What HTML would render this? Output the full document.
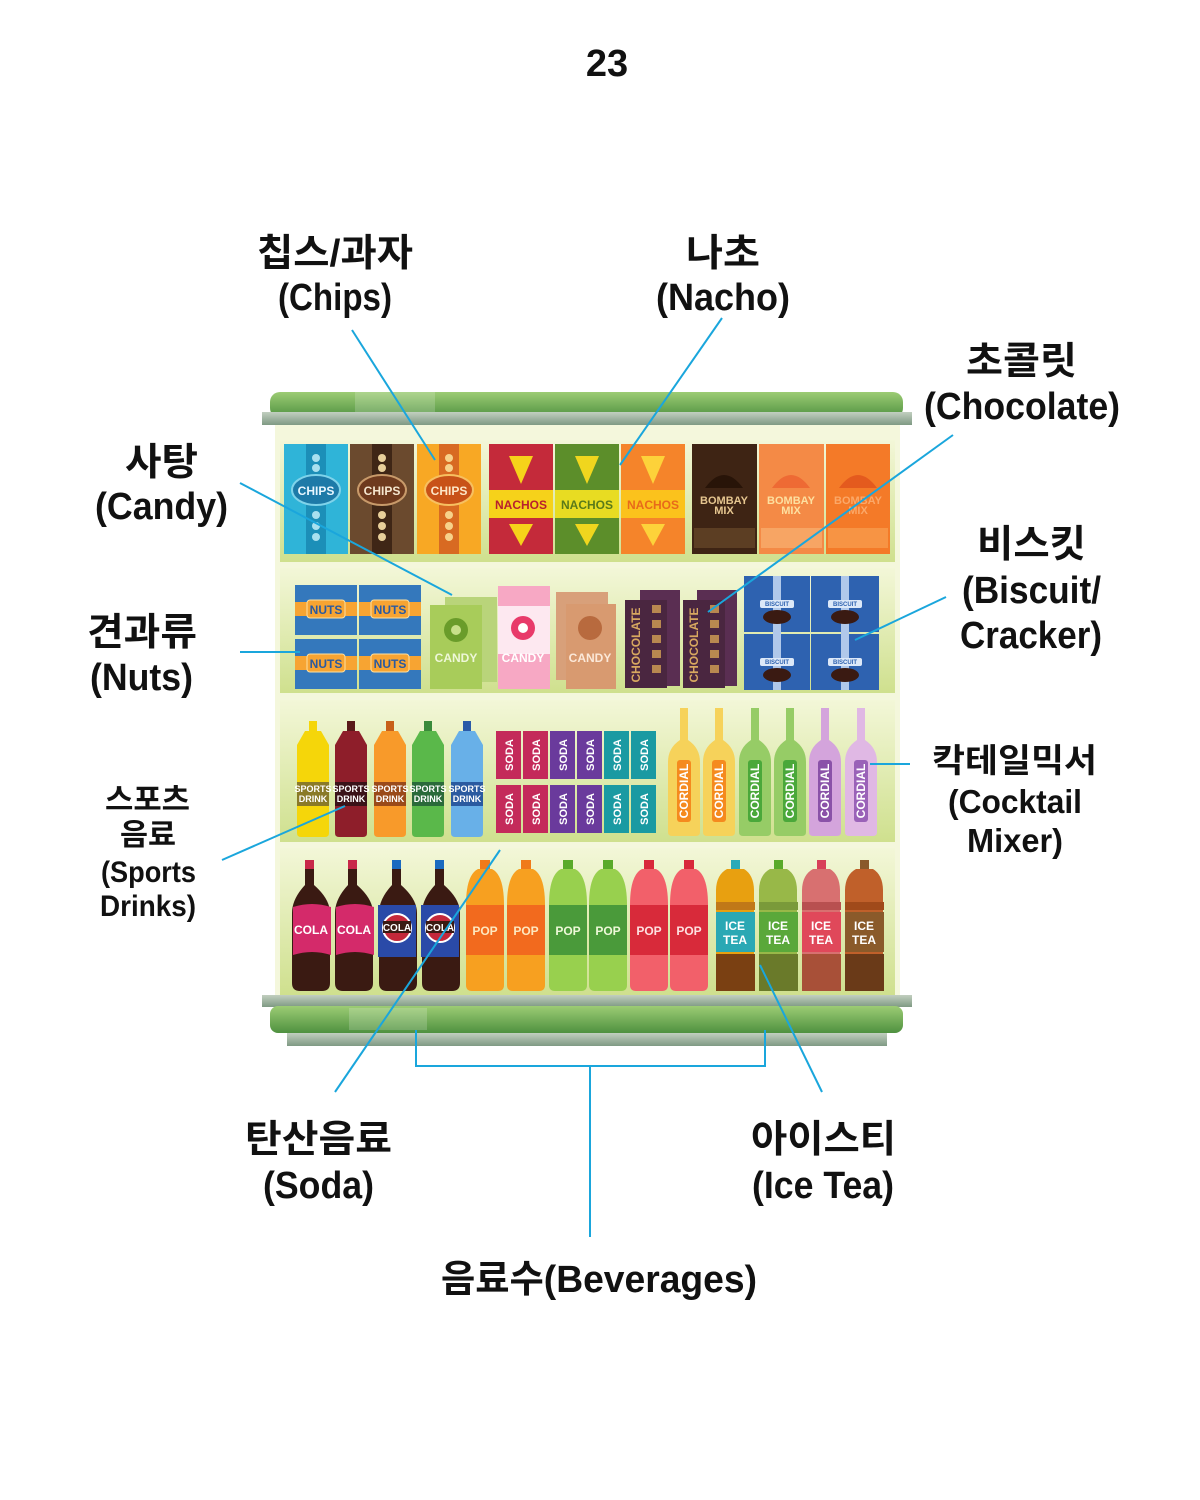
<!DOCTYPE html>
<html><head><meta charset="utf-8"><style>
html,body{margin:0;padding:0;background:#fff}
svg{display:block}
.L{font-family:"Liberation Sans Narrow","Liberation Sans","Noto Sans CJK KR",sans-serif;font-weight:bold;fill:#111}
.K{font-family:"Liberation Sans","Noto Sans CJK KR",sans-serif;font-weight:bold;fill:#111}
.p{font-family:"Liberation Sans Narrow","Liberation Sans",sans-serif;font-weight:bold;text-anchor:middle}
.ln{stroke:#1aa6dc;stroke-width:2;fill:none}
</style></head><body>
<svg width="1200" height="1500" viewBox="0 0 1200 1500" xmlns="http://www.w3.org/2000/svg">
<defs>
<linearGradient id="grn" x1="0" y1="0" x2="0" y2="1"><stop offset="0" stop-color="#9ccc74"/><stop offset="1" stop-color="#4f9140"/></linearGradient>
<linearGradient id="gry" x1="0" y1="0" x2="0" y2="1"><stop offset="0" stop-color="#c2cfc0"/><stop offset="1" stop-color="#7f9a84"/></linearGradient>
<linearGradient id="shelf" x1="0" y1="0" x2="0" y2="1"><stop offset="0" stop-color="#f3f7d8"/><stop offset="1" stop-color="#cfe08e"/></linearGradient>
<linearGradient id="sh" x1="0" y1="0" x2="1" y2="0"><stop offset="0" stop-color="#fff" stop-opacity=".25"/><stop offset=".5" stop-color="#fff" stop-opacity="0"/><stop offset="1" stop-color="#000" stop-opacity=".15"/></linearGradient>
</defs>

<!-- page number -->
<text class="L" x="607" y="76" font-size="38" text-anchor="middle">23</text>

<!-- cabinet -->
<rect x="275" y="420" width="625" height="580" fill="#f4f7dc"/>
<rect x="270" y="392" width="633" height="26" rx="10" fill="url(#grn)"/>
<rect x="355" y="392" width="80" height="22" fill="#fff" opacity=".18"/>
<rect x="262" y="412" width="650" height="13" fill="url(#gry)"/>

<!-- shelf backgrounds -->
<rect x="280" y="440" width="615" height="122" fill="url(#shelf)"/>
<rect x="280" y="568" width="615" height="125" fill="url(#shelf)"/>
<rect x="280" y="700" width="615" height="142" fill="url(#shelf)"/>
<rect x="280" y="848" width="615" height="147" fill="url(#shelf)"/>

<!-- SHELF 1: chips -->
<g>
<rect x="284" y="444" width="64" height="110" fill="#2fb4d8"/><rect x="306" y="444" width="20" height="110" fill="#1c8fb8"/>
<ellipse cx="316" cy="490" rx="24" ry="15" fill="#1d7aa8" stroke="#7fd3ea" stroke-width="2"/><text class="p" x="316" y="495" font-size="12" fill="#e8f7ff">CHIPS</text>
<circle cx="316" cy="458" r="4" fill="#a8e0ef"/><circle cx="316" cy="468" r="4" fill="#a8e0ef"/><circle cx="316" cy="515" r="4" fill="#a8e0ef"/><circle cx="316" cy="526" r="4" fill="#a8e0ef"/><circle cx="316" cy="537" r="4" fill="#a8e0ef"/>
<rect x="350" y="444" width="64" height="110" fill="#6b4a2e"/><rect x="372" y="444" width="20" height="110" fill="#3f2616"/>
<ellipse cx="382" cy="490" rx="24" ry="15" fill="#6e3a1e" stroke="#c89a6a" stroke-width="2"/><text class="p" x="382" y="495" font-size="12" fill="#f5e6cf">CHIPS</text>
<circle cx="382" cy="458" r="4" fill="#e8cf9a"/><circle cx="382" cy="468" r="4" fill="#e8cf9a"/><circle cx="382" cy="515" r="4" fill="#e8cf9a"/><circle cx="382" cy="526" r="4" fill="#e8cf9a"/><circle cx="382" cy="537" r="4" fill="#e8cf9a"/>
<rect x="417" y="444" width="64" height="110" fill="#f8a824"/><rect x="439" y="444" width="20" height="110" fill="#d86a22"/>
<ellipse cx="449" cy="490" rx="24" ry="15" fill="#c85218" stroke="#f7c060" stroke-width="2"/><text class="p" x="449" y="495" font-size="12" fill="#fde7c8">CHIPS</text>
<circle cx="449" cy="458" r="4" fill="#f7d28a"/><circle cx="449" cy="468" r="4" fill="#f7d28a"/><circle cx="449" cy="515" r="4" fill="#f7d28a"/><circle cx="449" cy="526" r="4" fill="#f7d28a"/><circle cx="449" cy="537" r="4" fill="#f7d28a"/>
</g>
<!-- nachos -->
<g>
<rect x="489" y="444" width="64" height="110" fill="#c42a3a"/><rect x="489" y="490" width="64" height="28" fill="#f6d21a"/>
<path d="M509 456 L533 456 L521 484 Z M509 524 L533 524 L521 546 Z" fill="#f6d21a"/><text class="p" x="521" y="509" font-size="12" fill="#b8202e">NACHOS</text>
<rect x="555" y="444" width="64" height="110" fill="#5c8e2a"/><rect x="555" y="490" width="64" height="28" fill="#e8dc22"/>
<path d="M575 456 L599 456 L587 484 Z M575 524 L599 524 L587 546 Z" fill="#f0d61e"/><text class="p" x="587" y="509" font-size="12" fill="#5a7a1a">NACHOS</text>
<rect x="621" y="444" width="64" height="110" fill="#f5842a"/><rect x="621" y="490" width="64" height="28" fill="#fbc21c"/>
<path d="M641 456 L665 456 L653 484 Z M641 524 L665 524 L653 546 Z" fill="#fdd23a"/><text class="p" x="653" y="509" font-size="12" fill="#e86a1a">NACHOS</text>
</g>
<!-- bombay -->
<g>
<rect x="692" y="444" width="65" height="110" fill="#3e2414"/><path d="M705 488 Q724 462 743 488 Z" fill="#281408"/>
<text class="p" x="724" y="504" font-size="11" fill="#e6c690">BOMBAY</text><text class="p" x="724" y="514" font-size="11" fill="#e6c690">MIX</text>
<rect x="694" y="528" width="61" height="20" fill="#6a4a2a" opacity=".7"/>
<rect x="759" y="444" width="65" height="110" fill="#f48a46"/><path d="M772 488 Q791 462 810 488 Z" fill="#ee6a34"/>
<text class="p" x="791" y="504" font-size="11" fill="#fde0a0">BOMBAY</text><text class="p" x="791" y="514" font-size="11" fill="#fde0a0">MIX</text>
<rect x="761" y="528" width="61" height="20" fill="#f8b070" opacity=".7"/>
<rect x="826" y="444" width="64" height="110" fill="#f47a28"/><path d="M839 488 Q858 462 877 488 Z" fill="#e45a1e"/>
<text class="p" x="858" y="504" font-size="11" fill="#fba868">BOMBAY</text><text class="p" x="858" y="514" font-size="11" fill="#fba868">MIX</text>
<rect x="828" y="528" width="60" height="20" fill="#f8a050" opacity=".7"/>
</g>

<!-- SHELF 2: nuts -->
<g>
<rect x="295" y="585" width="62" height="50" fill="#3478bc"/><rect x="295" y="602" width="62" height="14" fill="#f7a432"/><rect x="307" y="600" width="38" height="18" rx="3" fill="#f7a432" stroke="#fde0a0"/><text class="p" x="326" y="614" font-size="12" fill="#2a5aa0">NUTS</text>
<rect x="359" y="585" width="62" height="50" fill="#3478bc"/><rect x="359" y="602" width="62" height="14" fill="#f7a432"/><rect x="371" y="600" width="38" height="18" rx="3" fill="#f7a432" stroke="#fde0a0"/><text class="p" x="390" y="614" font-size="12" fill="#2a5aa0">NUTS</text>
<rect x="295" y="639" width="62" height="50" fill="#3478bc"/><rect x="295" y="656" width="62" height="14" fill="#f7a432"/><rect x="307" y="654" width="38" height="18" rx="3" fill="#f7a432" stroke="#fde0a0"/><text class="p" x="326" y="668" font-size="12" fill="#2a5aa0">NUTS</text>
<rect x="359" y="639" width="62" height="50" fill="#3478bc"/><rect x="359" y="656" width="62" height="14" fill="#f7a432"/><rect x="371" y="654" width="38" height="18" rx="3" fill="#f7a432" stroke="#fde0a0"/><text class="p" x="390" y="668" font-size="12" fill="#2a5aa0">NUTS</text>
</g>
<!-- candy -->
<g>
<rect x="445" y="597" width="52" height="85" fill="#b9d47a"/>
<rect x="430" y="605" width="52" height="84" fill="#a8cc5a"/><circle cx="456" cy="630" r="12" fill="#6a9c2a"/><circle cx="456" cy="630" r="5" fill="#c8e08a"/><text class="p" x="456" y="662" font-size="12" fill="#eef7d8">CANDY</text>
<rect x="498" y="586" width="52" height="103" fill="#f7a8c4"/><rect x="498" y="606" width="52" height="48" fill="#fde8f0"/><circle cx="523" cy="628" r="12" fill="#e83a6a"/><circle cx="523" cy="628" r="5" fill="#fff"/><text class="p" x="523" y="662" font-size="12" fill="#fff">CANDY</text>
<rect x="556" y="592" width="52" height="88" fill="#d8a07a"/>
<rect x="566" y="604" width="50" height="85" fill="#d89a70"/><circle cx="590" cy="628" r="12" fill="#b86a3e"/><text class="p" x="590" y="662" font-size="12" fill="#fbe8d8">CANDY</text>
</g>
<!-- chocolate -->
<g>
<rect x="640" y="590" width="40" height="96" fill="#5a2e52"/>
<rect x="625" y="600" width="42" height="88" fill="#4a2640"/><text class="p" font-size="12" fill="#d8a860" transform="translate(640 645) rotate(-90)">CHOCOLATE</text>
<rect x="652" y="605" width="9" height="8" fill="#b88850"/><rect x="652" y="620" width="9" height="8" fill="#b88850"/><rect x="652" y="635" width="9" height="8" fill="#b88850"/><rect x="652" y="650" width="9" height="8" fill="#b88850"/><rect x="652" y="665" width="9" height="8" fill="#b88850"/>
<rect x="697" y="590" width="40" height="96" fill="#5a2e52"/>
<rect x="683" y="600" width="42" height="88" fill="#4a2640"/><text class="p" font-size="12" fill="#d8a860" transform="translate(698 645) rotate(-90)">CHOCOLATE</text>
<rect x="710" y="605" width="9" height="8" fill="#b88850"/><rect x="710" y="620" width="9" height="8" fill="#b88850"/><rect x="710" y="635" width="9" height="8" fill="#b88850"/><rect x="710" y="650" width="9" height="8" fill="#b88850"/><rect x="710" y="665" width="9" height="8" fill="#b88850"/>
</g>
<!-- biscuit -->
<g>
<rect x="744" y="576" width="66" height="56" fill="#2e62b0"/><rect x="811" y="576" width="68" height="56" fill="#2e62b0"/>
<rect x="744" y="634" width="66" height="56" fill="#2e62b0"/><rect x="811" y="634" width="68" height="56" fill="#2e62b0"/>
<rect x="773" y="576" width="8" height="114" fill="#b0c8ea"/><rect x="841" y="576" width="8" height="114" fill="#b0c8ea"/>
<rect x="760" y="600" width="34" height="8" rx="2" fill="#dce8f8"/><rect x="828" y="600" width="34" height="8" rx="2" fill="#dce8f8"/>
<rect x="760" y="658" width="34" height="8" rx="2" fill="#dce8f8"/><rect x="828" y="658" width="34" height="8" rx="2" fill="#dce8f8"/>
<ellipse cx="777" cy="617" rx="14" ry="7" fill="#3a1a12"/><ellipse cx="845" cy="617" rx="14" ry="7" fill="#3a1a12"/>
<ellipse cx="777" cy="675" rx="14" ry="7" fill="#3a1a12"/><ellipse cx="845" cy="675" rx="14" ry="7" fill="#3a1a12"/>
<text class="p" x="777" y="606" font-size="6" fill="#2e62b0">BISCUIT</text><text class="p" x="845" y="606" font-size="6" fill="#2e62b0">BISCUIT</text>
<text class="p" x="777" y="664" font-size="6" fill="#2e62b0">BISCUIT</text><text class="p" x="845" y="664" font-size="6" fill="#2e62b0">BISCUIT</text>
</g>

<!-- SHELF 3: sports drinks -->
<g>
<rect x="309" y="721" width="8" height="10" fill="#f5d60a"/><path d="M305 731 h16 l8 14 v88 q0 4 -4 4 h-24 q-4 0 -4 -4 v-88 z" fill="#f5d60a"/><rect x="297" y="782" width="32" height="24" fill="#8a7a28"/><text class="p" x="313" y="792" font-size="9" fill="#fff">SPORTS</text><text class="p" x="313" y="802" font-size="9" fill="#fff">DRINK</text>
<rect x="347" y="721" width="8" height="10" fill="#5a1a1a"/><path d="M343 731 h16 l8 14 v88 q0 4 -4 4 h-24 q-4 0 -4 -4 v-88 z" fill="#8e1e2a"/><rect x="335" y="782" width="32" height="24" fill="#3a1218"/><text class="p" x="351" y="792" font-size="9" fill="#fff">SPORTS</text><text class="p" x="351" y="802" font-size="9" fill="#fff">DRINK</text>
<rect x="386" y="721" width="8" height="10" fill="#c8601a"/><path d="M382 731 h16 l8 14 v88 q0 4 -4 4 h-24 q-4 0 -4 -4 v-88 z" fill="#f89a2a"/><rect x="374" y="782" width="32" height="24" fill="#9a4a1a"/><text class="p" x="390" y="792" font-size="9" fill="#fff">SPORTS</text><text class="p" x="390" y="802" font-size="9" fill="#fff">DRINK</text>
<rect x="424" y="721" width="8" height="10" fill="#3a8a3a"/><path d="M420 731 h16 l8 14 v88 q0 4 -4 4 h-24 q-4 0 -4 -4 v-88 z" fill="#5ab84a"/><rect x="412" y="782" width="32" height="24" fill="#2a6a3a"/><text class="p" x="428" y="792" font-size="9" fill="#fff">SPORTS</text><text class="p" x="428" y="802" font-size="9" fill="#fff">DRINK</text>
<rect x="463" y="721" width="8" height="10" fill="#2a5aa8"/><path d="M459 731 h16 l8 14 v88 q0 4 -4 4 h-24 q-4 0 -4 -4 v-88 z" fill="#68b0e8"/><rect x="451" y="782" width="32" height="24" fill="#2a5aa0"/><text class="p" x="467" y="792" font-size="9" fill="#fff">SPORTS</text><text class="p" x="467" y="802" font-size="9" fill="#fff">DRINK</text>
</g>
<!-- soda cans -->
<g font-size="11">
<rect x="496" y="731" width="25" height="48" fill="#c42a5a"/><rect x="523" y="731" width="25" height="48" fill="#c42a5a"/><rect x="550" y="731" width="25" height="48" fill="#6a3a9c"/><rect x="577" y="731" width="25" height="48" fill="#6a3a9c"/><rect x="604" y="731" width="25" height="48" fill="#1a9aa2"/><rect x="631" y="731" width="25" height="48" fill="#1a9aa2"/>
<rect x="496" y="785" width="25" height="48" fill="#c42a5a"/><rect x="523" y="785" width="25" height="48" fill="#c42a5a"/><rect x="550" y="785" width="25" height="48" fill="#6a3a9c"/><rect x="577" y="785" width="25" height="48" fill="#6a3a9c"/><rect x="604" y="785" width="25" height="48" fill="#1a9aa2"/><rect x="631" y="785" width="25" height="48" fill="#1a9aa2"/>
<text class="p" fill="#fff" transform="translate(513 755) rotate(-90)">SODA</text><text class="p" fill="#fff" transform="translate(540 755) rotate(-90)">SODA</text><text class="p" fill="#fff" transform="translate(567 755) rotate(-90)">SODA</text><text class="p" fill="#fff" transform="translate(594 755) rotate(-90)">SODA</text><text class="p" fill="#fff" transform="translate(621 755) rotate(-90)">SODA</text><text class="p" fill="#fff" transform="translate(648 755) rotate(-90)">SODA</text>
<text class="p" fill="#fff" transform="translate(513 809) rotate(-90)">SODA</text><text class="p" fill="#fff" transform="translate(540 809) rotate(-90)">SODA</text><text class="p" fill="#fff" transform="translate(567 809) rotate(-90)">SODA</text><text class="p" fill="#fff" transform="translate(594 809) rotate(-90)">SODA</text><text class="p" fill="#fff" transform="translate(621 809) rotate(-90)">SODA</text><text class="p" fill="#fff" transform="translate(648 809) rotate(-90)">SODA</text>
</g>
<!-- cordial -->
<g font-size="12">
<path d="M680 708 h8 v32 q12 8 12 22 v70 q0 4 -4 4 h-24 q-4 0 -4 -4 v-70 q0 -14 12 -22 z" fill="#f6d25a"/><rect x="677" y="760" width="14" height="62" rx="3" fill="#f58a1e"/>
<path d="M715 708 h8 v32 q12 8 12 22 v70 q0 4 -4 4 h-24 q-4 0 -4 -4 v-70 q0 -14 12 -22 z" fill="#f6d25a"/><rect x="712" y="760" width="14" height="62" rx="3" fill="#f58a1e"/>
<path d="M751 708 h8 v32 q12 8 12 22 v70 q0 4 -4 4 h-24 q-4 0 -4 -4 v-70 q0 -14 12 -22 z" fill="#96cc66"/><rect x="748" y="760" width="14" height="62" rx="3" fill="#4aa83a"/>
<path d="M786 708 h8 v32 q12 8 12 22 v70 q0 4 -4 4 h-24 q-4 0 -4 -4 v-70 q0 -14 12 -22 z" fill="#96cc66"/><rect x="783" y="760" width="14" height="62" rx="3" fill="#4aa83a"/>
<path d="M821 708 h8 v32 q12 8 12 22 v70 q0 4 -4 4 h-24 q-4 0 -4 -4 v-70 q0 -14 12 -22 z" fill="#d4a4dc"/><rect x="818" y="760" width="14" height="62" rx="3" fill="#8a52a8"/>
<path d="M857 708 h8 v32 q12 8 12 22 v70 q0 4 -4 4 h-24 q-4 0 -4 -4 v-70 q0 -14 12 -22 z" fill="#e0b8e4"/><rect x="854" y="760" width="14" height="62" rx="3" fill="#9a62b8"/>
<text class="p" fill="#fff" transform="translate(688 791) rotate(-90)">CORDIAL</text><text class="p" fill="#fff" transform="translate(723 791) rotate(-90)">CORDIAL</text><text class="p" fill="#fff" transform="translate(759 791) rotate(-90)">CORDIAL</text><text class="p" fill="#fff" transform="translate(794 791) rotate(-90)">CORDIAL</text><text class="p" fill="#fff" transform="translate(829 791) rotate(-90)">CORDIAL</text><text class="p" fill="#fff" transform="translate(865 791) rotate(-90)">CORDIAL</text>
</g>

<!-- SHELF 4: bottles -->
<g font-size="12">
<!-- cola -->
<rect x="305" y="860" width="9" height="9" fill="#c8284a"/><path d="M305 869 h9 v16 q16 14 16 28 v70 q0 8 -8 8 h-22 q-8 0 -8 -8 v-70 q0 -14 13 -28 z" fill="#3a1a12"/><path d="M293 907 q19 -6 38 0 v48 q-19 -6 -38 0 z" fill="#d42a6a"/><text class="p" x="311" y="934" fill="#fff">COLA</text>
<rect x="348" y="860" width="9" height="9" fill="#c8284a"/><path d="M348 869 h9 v16 q16 14 16 28 v70 q0 8 -8 8 h-22 q-8 0 -8 -8 v-70 q0 -14 13 -28 z" fill="#3a1a12"/><path d="M336 907 q19 -6 38 0 v48 q-19 -6 -38 0 z" fill="#d42a6a"/><text class="p" x="354" y="934" fill="#fff">COLA</text>
<rect x="392" y="860" width="9" height="9" fill="#1a6ac0"/><path d="M392 869 h9 v16 q16 14 16 28 v70 q0 8 -8 8 h-22 q-8 0 -8 -8 v-70 q0 -14 13 -28 z" fill="#3a1a12"/><rect x="378" y="905" width="38" height="52" fill="#2a4aa8"/><circle cx="397" cy="928" r="14" fill="#c4283a" stroke="#fff" stroke-width="2"/><rect x="383" y="921" width="28" height="12" fill="#3a1a12"/><text class="p" x="397" y="931" font-size="10" fill="#fff">COLA</text>
<rect x="435" y="860" width="9" height="9" fill="#1a6ac0"/><path d="M435 869 h9 v16 q16 14 16 28 v70 q0 8 -8 8 h-22 q-8 0 -8 -8 v-70 q0 -14 13 -28 z" fill="#3a1a12"/><rect x="421" y="905" width="38" height="52" fill="#2a4aa8"/><circle cx="440" cy="928" r="14" fill="#c4283a" stroke="#fff" stroke-width="2"/><rect x="426" y="921" width="28" height="12" fill="#3a1a12"/><text class="p" x="440" y="931" font-size="10" fill="#fff">COLA</text>
<!-- pop -->
<rect x="480" y="860" width="10" height="9" fill="#f07a1a"/><path d="M478 869 h14 q12 6 12 36 v80 q0 6 -6 6 h-26 q-6 0 -6 -6 v-80 q0 -30 12 -36 z" fill="#f7a020"/><rect x="466" y="905" width="38" height="50" fill="#f26a1e"/><text class="p" x="485" y="935" fill="#fde8c0">POP</text>
<rect x="521" y="860" width="10" height="9" fill="#f07a1a"/><path d="M519 869 h14 q12 6 12 36 v80 q0 6 -6 6 h-26 q-6 0 -6 -6 v-80 q0 -30 12 -36 z" fill="#f7a020"/><rect x="507" y="905" width="38" height="50" fill="#f26a1e"/><text class="p" x="526" y="935" fill="#fde8c0">POP</text>
<rect x="563" y="860" width="10" height="9" fill="#5aaa2a"/><path d="M561 869 h14 q12 6 12 36 v80 q0 6 -6 6 h-26 q-6 0 -6 -6 v-80 q0 -30 12 -36 z" fill="#98d04e"/><rect x="549" y="905" width="38" height="50" fill="#4a9a3a"/><text class="p" x="568" y="935" fill="#eef8d8">POP</text>
<rect x="603" y="860" width="10" height="9" fill="#5aaa2a"/><path d="M601 869 h14 q12 6 12 36 v80 q0 6 -6 6 h-26 q-6 0 -6 -6 v-80 q0 -30 12 -36 z" fill="#98d04e"/><rect x="589" y="905" width="38" height="50" fill="#4a9a3a"/><text class="p" x="608" y="935" fill="#eef8d8">POP</text>
<rect x="644" y="860" width="10" height="9" fill="#d8283a"/><path d="M642 869 h14 q12 6 12 36 v80 q0 6 -6 6 h-26 q-6 0 -6 -6 v-80 q0 -30 12 -36 z" fill="#f2606a"/><rect x="630" y="905" width="38" height="50" fill="#d82a3a"/><text class="p" x="649" y="935" fill="#fde0e0">POP</text>
<rect x="684" y="860" width="10" height="9" fill="#d8283a"/><path d="M682 869 h14 q12 6 12 36 v80 q0 6 -6 6 h-26 q-6 0 -6 -6 v-80 q0 -30 12 -36 z" fill="#f2606a"/><rect x="670" y="905" width="38" height="50" fill="#d82a3a"/><text class="p" x="689" y="935" fill="#fde0e0">POP</text>
<!-- ice tea -->
<rect x="731" y="860" width="9" height="9" fill="#2aaab8"/><path d="M727 869 h17 q10 6 10 22 v92 q0 8 -8 8 h-22 q-8 0 -8 -8 v-92 q0 -16 11 -22 z" fill="#e8a010"/><rect x="716" y="902" width="39" height="8" fill="#c07818"/><rect x="716" y="912" width="39" height="40" fill="#2aa8b4"/><rect x="716" y="954" width="39" height="37" fill="#7a4012"/><text class="p" x="735" y="930" fill="#fff">ICE</text><text class="p" x="735" y="944" fill="#fff">TEA</text>
<rect x="774" y="860" width="9" height="9" fill="#5aaa2a"/><path d="M770 869 h17 q10 6 10 22 v92 q0 8 -8 8 h-22 q-8 0 -8 -8 v-92 q0 -16 11 -22 z" fill="#98b848"/><rect x="759" y="902" width="39" height="8" fill="#7a9a3a"/><rect x="759" y="912" width="39" height="40" fill="#5aa83a"/><rect x="759" y="954" width="39" height="37" fill="#6a7a2a"/><text class="p" x="778" y="930" fill="#fff">ICE</text><text class="p" x="778" y="944" fill="#fff">TEA</text>
<rect x="817" y="860" width="9" height="9" fill="#d8405a"/><path d="M813 869 h17 q10 6 10 22 v92 q0 8 -8 8 h-22 q-8 0 -8 -8 v-92 q0 -16 11 -22 z" fill="#d87070"/><rect x="802" y="902" width="39" height="8" fill="#b85050"/><rect x="802" y="912" width="39" height="40" fill="#e0485a"/><rect x="802" y="954" width="39" height="37" fill="#a85038"/><text class="p" x="821" y="930" fill="#fff">ICE</text><text class="p" x="821" y="944" fill="#fff">TEA</text>
<rect x="860" y="860" width="9" height="9" fill="#8a5a2a"/><path d="M856 869 h17 q10 6 10 22 v92 q0 8 -8 8 h-22 q-8 0 -8 -8 v-92 q0 -16 11 -22 z" fill="#c0602a"/><rect x="845" y="902" width="39" height="8" fill="#a04a1a"/><rect x="845" y="912" width="39" height="40" fill="#8a5a2a"/><rect x="845" y="954" width="39" height="37" fill="#6a3a18"/><text class="p" x="864" y="930" fill="#fff">ICE</text><text class="p" x="864" y="944" fill="#fff">TEA</text>
</g>

<!-- base -->
<rect x="262" y="995" width="650" height="12" fill="url(#gry)"/>
<rect x="270" y="1006" width="633" height="27" rx="8" fill="url(#grn)"/>
<rect x="349" y="1008" width="78" height="22" fill="#fff" opacity=".18"/>
<rect x="287" y="1033" width="600" height="13" fill="url(#gry)"/>

<!-- leader lines -->
<line class="ln" x1="352" y1="330" x2="435" y2="460"/>
<line class="ln" x1="722" y1="318" x2="620" y2="465"/>
<line class="ln" x1="953" y1="435" x2="708" y2="612"/>
<line class="ln" x1="240" y1="483" x2="452" y2="595"/>
<line class="ln" x1="946" y1="597" x2="855" y2="640"/>
<line class="ln" x1="240" y1="652" x2="300" y2="652"/>
<line class="ln" x1="870" y1="764" x2="910" y2="764"/>
<line class="ln" x1="222" y1="860" x2="345" y2="806"/>
<line class="ln" x1="335" y1="1092" x2="500" y2="850"/>
<line class="ln" x1="822" y1="1092" x2="760" y2="965"/>
<polyline class="ln" points="416,1030 416,1066 765,1066 765,1030"/>
<line class="ln" x1="590" y1="1066" x2="590" y2="1237"/>

<!-- labels -->
<g class="L" font-size="38" text-anchor="start">
<text x="257" y="266" textLength="156" lengthAdjust="spacingAndGlyphs">칩스/과자</text>
<text x="278" y="310" textLength="114" lengthAdjust="spacingAndGlyphs">(Chips)</text>
<text x="686" y="266" textLength="74" lengthAdjust="spacingAndGlyphs">나초</text>
<text x="656" y="310" textLength="134" lengthAdjust="spacingAndGlyphs">(Nacho)</text>
<text x="966" y="374" textLength="111" lengthAdjust="spacingAndGlyphs">초콜릿</text>
<text x="924" y="419" textLength="196" lengthAdjust="spacingAndGlyphs">(Chocolate)</text>
<text x="125" y="475" textLength="73" lengthAdjust="spacingAndGlyphs">사탕</text>
<text x="95" y="519" textLength="133" lengthAdjust="spacingAndGlyphs">(Candy)</text>
<text x="977" y="557" textLength="109" lengthAdjust="spacingAndGlyphs">비스킷</text>
<text x="962" y="603" textLength="139" lengthAdjust="spacingAndGlyphs">(Biscuit/</text>
<text x="960" y="648" textLength="142" lengthAdjust="spacingAndGlyphs">Cracker)</text>
<text x="87" y="645" textLength="110" lengthAdjust="spacingAndGlyphs">견과류</text>
<text x="90" y="690" textLength="103" lengthAdjust="spacingAndGlyphs">(Nuts)</text>
<text x="245" y="1152" textLength="147" lengthAdjust="spacingAndGlyphs">탄산음료</text>
<text x="263" y="1198" textLength="111" lengthAdjust="spacingAndGlyphs">(Soda)</text>
<text x="751" y="1152" textLength="145" lengthAdjust="spacingAndGlyphs">아이스티</text>
<text x="752" y="1198" textLength="142" lengthAdjust="spacingAndGlyphs">(Ice Tea)</text>
<text x="441" y="1292" textLength="316" lengthAdjust="spacingAndGlyphs">음료수(Beverages)</text>
</g>
<g class="L" font-size="33">
<text x="932" y="772" textLength="165" lengthAdjust="spacingAndGlyphs">칵테일믹서</text>
<text x="948" y="813" textLength="134" lengthAdjust="spacingAndGlyphs">(Cocktail</text>
<text x="967" y="852" textLength="96" lengthAdjust="spacingAndGlyphs">Mixer)</text>
</g>
<g class="L" font-size="30">
<text x="105" y="810" textLength="85" lengthAdjust="spacingAndGlyphs">스포츠</text>
<text x="120" y="845" textLength="56" lengthAdjust="spacingAndGlyphs">음료</text>
<text x="101" y="882" textLength="95" lengthAdjust="spacingAndGlyphs">(Sports</text>
<text x="100" y="916" textLength="96" lengthAdjust="spacingAndGlyphs">Drinks)</text>
</g>
</svg>
</body></html>
